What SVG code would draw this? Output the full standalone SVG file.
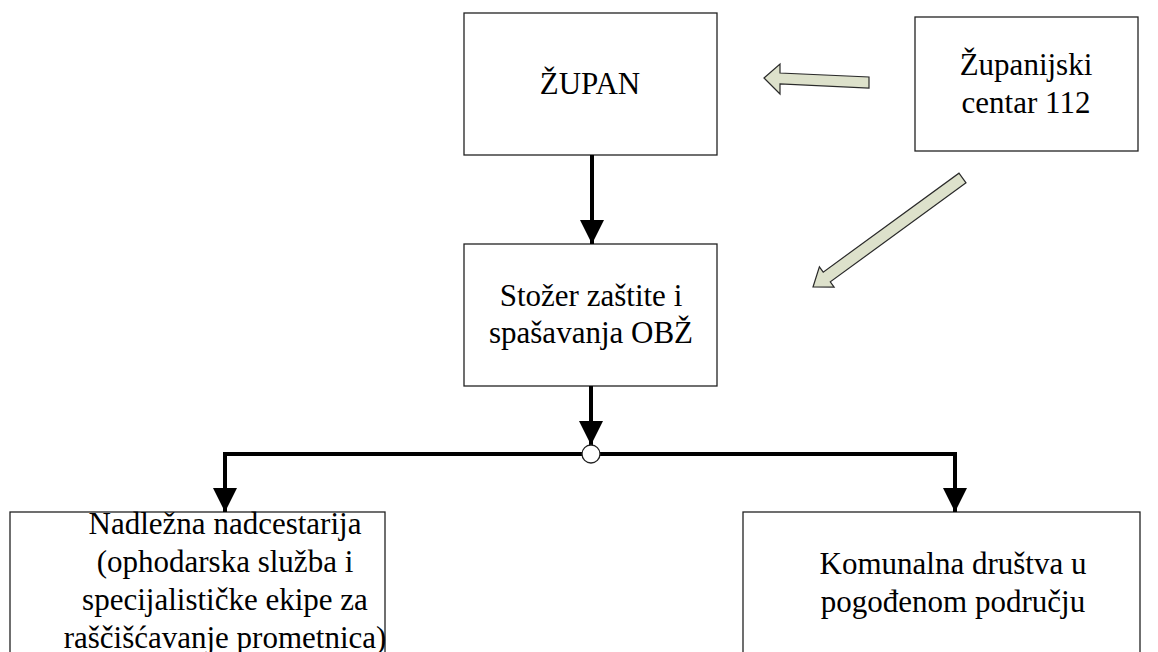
<svg xmlns="http://www.w3.org/2000/svg" width="1158" height="652" viewBox="0 0 1158 652">
  <style>
    .box { fill: #ffffff; stroke: #222222; stroke-width: 1.3; }
    .lbl { font-family: "Liberation Serif", "Times New Roman", serif; font-size: 31px; fill: #000000; text-anchor: middle; }
    .link { fill: none; stroke: #000000; stroke-width: 4; }
    .head { fill: #000000; }
    .hollow { fill: #dde1cb; stroke: #2a2a2a; stroke-width: 1.2; stroke-linejoin: miter; }
  </style>
  <defs>
    <marker id="arrow" viewBox="0 0 24 24" refX="24" refY="12" markerWidth="24" markerHeight="24" markerUnits="userSpaceOnUse" orient="auto">
      <path class="head" d="M0,0 L24,12 L0,24 Z"/>
    </marker>
  </defs>

  <rect width="1158" height="652" fill="#ffffff"/>

  <g id="zupan">
    <rect class="box" x="464" y="13" width="253" height="142"/>
    <text class="lbl" x="590" y="94">ŽUPAN</text>
  </g>

  <g id="centar112">
    <rect class="box" x="915" y="17" width="223" height="134"/>
    <text class="lbl" x="1026" y="75">Županijski</text>
    <text class="lbl" x="1026" y="113">centar 112</text>
  </g>

  <g id="stozer">
    <rect class="box" x="464" y="244" width="253" height="142"/>
    <text class="lbl" x="591" y="306">Stožer zaštite i</text>
    <text class="lbl" x="591" y="343">spašavanja OBŽ</text>
  </g>

  <g id="nadcestarija">
    <rect class="box" x="10" y="512" width="375" height="160"/>
    <text class="lbl" x="225" y="534">Nadležna nadcestarija</text>
    <text class="lbl" x="225" y="572">(ophodarska služba i</text>
    <text class="lbl" x="225" y="610">specijalističke ekipe za</text>
    <text class="lbl" x="225" y="648">raščišćavanje prometnica)</text>
  </g>

  <g id="komunalna">
    <rect class="box" x="743" y="512" width="397" height="160"/>
    <text class="lbl" x="953" y="574">Komunalna društva u</text>
    <text class="lbl" x="953" y="612">pogođenom području</text>
  </g>

  <g id="connectors">
    <line class="link" x1="592" y1="155" x2="592" y2="244" marker-end="url(#arrow)"/>
    <line class="link" x1="591" y1="386" x2="591" y2="445" marker-end="url(#arrow)"/>
    <path class="link" d="M582,454 H225 V512" marker-end="url(#arrow)"/>
    <path class="link" d="M600,454 H955 V512" marker-end="url(#arrow)"/>
    <circle cx="591" cy="454" r="9" fill="#ffffff" stroke="#222222" stroke-width="1.3"/>
    <!-- block arrows from the 112 centre -->
    <polygon class="hollow" points="764,78 780,64 780,73 869,77 869,88 780,84 780,94"/>
    <polygon class="hollow" transform="translate(962.5,178) rotate(143.9)" points="0,-6 168,-6 168,-12.5 185,0 168,12.5 168,6 0,6"/>
  </g>
</svg>
